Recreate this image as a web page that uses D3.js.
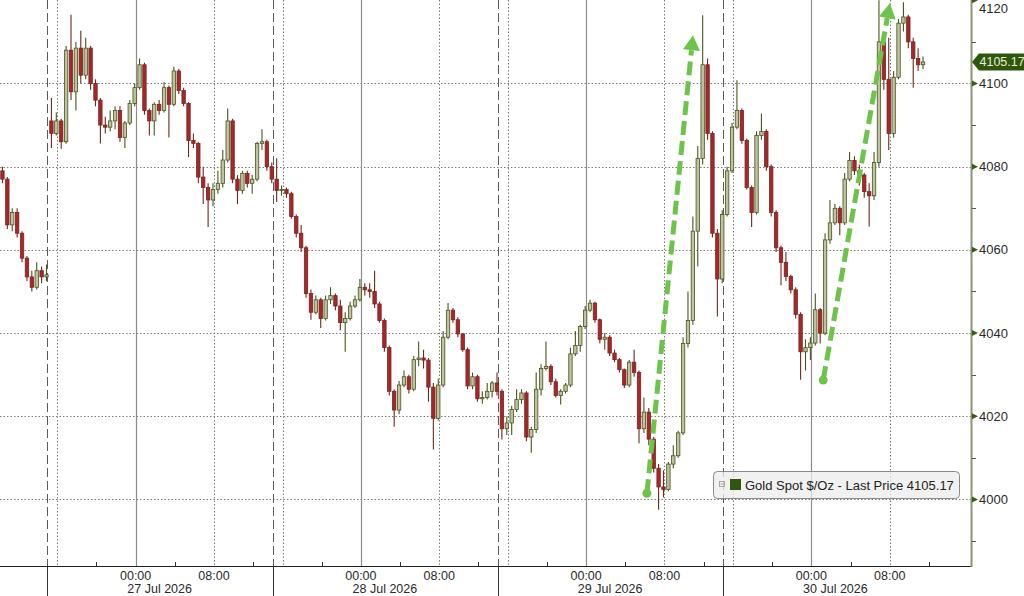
<!DOCTYPE html>
<html><head><meta charset="utf-8">
<script src="https://cdn.jsdelivr.net/npm/d3@7/dist/d3.min.js"></script>
<style>body{margin:0;background:#fff;overflow:hidden}svg{display:block;font-family:"Liberation Sans",Arial,sans-serif}</style>
</head><body><svg id="c" width="1024" height="596"></svg>
<script>
// ---- data: 30-minute bars of Gold Spot $/Oz, index 0 = left edge of chart ----
const opens = [4079,4077,4066,4069,4064,4058,4053.5,4051,4055,4053.5,
4091,4088,4091,4086,4108,4098,4108.5,4102,4108.5,4100,
4096,4090,4089.5,4091,4093.5,4087,4090.5,4095.2,4099,4104.5,
4093.5,4091,4095,4093.5,4099,4095,4103,4098.3,4095.2,4086.3,
4085.6,4077.5,4075,4072,4074.5,4076,4081.6,4091,4077,4074.3,
4078.4,4076,4077,4085.6,4086,4080,4077,4074.3,4074.5,4073.5,
4068,4064,4060.5,4049.5,4045,4048,4043.5,4048,4049,4046.5,
4042.5,4043.5,4046.5,4048,4051,4050.4,4050,4047,4043,4036.5,
4026,4021.5,4027.5,4029.5,4026.5,4033.6,4034,4033.5,4027,4019.5,
4027.5,4039,4045.5,4043.2,4039.8,4036,4027.3,4029.5,4024.2,4024.5,
4026,4028,4026,4017,4018.4,4021.6,4024,4025.6,4015,4016.8,
4026.5,4031.5,4032,4028.3,4025,4026,4027.5,4035,4037,4041.6,
4045.5,4047.2,4043.2,4038.5,4039,4035.2,4033.6,4031.2,4027.5,4033,
4030.5,4017,4021,4014.5,4007.5,4003,4002.4,4008.5,4010.5,4016,
4037.5,4043,4064.5,4082,4104.5,4088,4064,4053,4068.5,4079,
4089.5,4093.5,4086.3,4075,4069,4087.5,4088.5,4080,4069,4060.5,
4057,4053.6,4050.4,4044.5,4035.5,4036.5,4037.6,4045.6,4040,4062.4,
4066.5,4070,4066.5,4077,4081.5,4079,4078,4074,4073,4081,
4110,4101,4088,4101.5,4114.5,4116,4110,4106,4104.5];
const highs = [4080,4077.5,4070,4070,4064.5,4058.5,4055,4057,4056,4056.5,
4096.5,4093,4091.5,4109,4116.5,4110,4112.7,4111,4109,4101,
4096.5,4092,4093.5,4094.5,4094.5,4091,4096,4100,4106,4105,
4094,4095.5,4096,4100.3,4099.5,4104,4103.5,4099,4095.5,4088,
4086,4080,4076,4076,4079,4084,4094,4091.5,4078,4079,
4079,4078,4086,4089,4086.5,4081,4082,4075.5,4075,4074,
4068.5,4066,4061,4050.5,4049,4048.5,4049,4051,4049.5,4048,
4045,4047.5,4049,4053,4052,4052,4055,4047.5,4043.5,4037,
4026.5,4028.5,4031,4030,4034.5,4038,4036,4034,4028,4029,
4040.5,4047.2,4046,4043.8,4040,4036.5,4030.5,4030,4026,4028,
4028.5,4030.5,4026.5,4020,4022.5,4026.5,4026.5,4026,4017.5,4030.5,
4032.5,4038,4032.5,4029,4026.5,4028,4036.5,4040.5,4042,4046.5,
4048,4047.5,4043.5,4040,4039.5,4036,4034,4031.5,4033.5,4036,
4031,4024.5,4022,4015,4008.5,4007,4009,4013,4016.5,4039,
4050,4068,4085,4116.4,4106,4088.5,4065,4069.5,4080,4090.5,
4100.8,4094,4086.8,4075.5,4088.5,4092.8,4089,4080.5,4069.5,4061,
4059.5,4054,4051,4045,4038.5,4039,4049.5,4046,4064,4072,
4071,4070.5,4078.5,4083.5,4082.5,4080.5,4078.5,4076,4083.5,4120,
4111,4111,4103,4115.5,4119.5,4116.5,4111,4108.5,4106.5];
const lows = [4076,4065,4064.5,4063,4057,4052.5,4050,4050.5,4052,4052.5,
4084.5,4087.5,4084.3,4085.5,4096,4093.5,4100,4101,4098.5,4094.5,
4085.6,4088,4088.5,4089,4086,4084.5,4090,4094.5,4098.5,4092.5,
4087.5,4087.5,4092.5,4093,4087,4094.5,4097.5,4094.5,4082.3,4084.5,
4076,4071,4065.5,4070.5,4073.5,4075,4081,4076,4071,4073.5,
4075,4073.5,4076.5,4084,4079,4076,4071.5,4073,4072.5,4067.5,
4063,4059.5,4048.5,4043.2,4044.5,4041.2,4043,4047,4045.5,4040.7,
4035.5,4043,4046,4047.5,4049,4048.5,4046,4042.5,4035.5,4025,
4017.5,4020.5,4027,4025.5,4026,4032,4031.5,4023.5,4012,4019,
4027,4038.5,4042.5,4039,4035.5,4026.5,4026.5,4023.5,4023,4024,
4024.5,4025,4014.4,4015.5,4015.5,4021,4023,4014,4011.2,4016,
4025,4031,4027.5,4024.5,4022.8,4025.5,4027,4034.5,4035.5,4041,
4045,4042.5,4037.5,4036,4034.5,4033,4030.5,4026.8,4027,4029.5,
4013.5,4016,4013,4006.5,3997.5,4000.5,4002,4007.5,4010,4015.5,
4036.5,4042,4056,4080.5,4086.5,4063,4044,4052,4068,4078.5,
4089,4085.5,4074.5,4065.5,4068.5,4086.5,4079,4068,4059.5,4051.5,
4052.5,4049.5,4043.5,4028.8,4031,4033.5,4037,4037.5,4039.5,4061.5,
4066,4063.5,4066,4076.5,4078,4075.5,4072.5,4065.6,4072,4080,
4098.5,4084,4087,4101,4112.5,4108.5,4099,4103,4103.5];
const closes = [4077,4066,4069,4064,4058,4053.5,4051,4055,4053.5,4054,
4088,4091,4086,4108,4098,4108.5,4102,4108.5,4100,4096,
4090,4089.5,4091,4093.5,4087,4090.5,4095.2,4099,4104.5,4093.5,
4091,4095,4093.5,4099,4095,4103,4098.3,4095.2,4086.3,4085.6,
4077.5,4075,4072,4074.5,4076,4081.6,4091,4077,4074.3,4078.4,
4076,4077,4085.6,4086,4080,4077,4074.3,4074.5,4073.5,4068,
4064,4060.5,4049.5,4045,4048,4043.5,4048,4049,4046.5,4042.5,
4043.5,4046.5,4048,4051,4050.4,4050,4047,4043,4036.5,4026,
4021.5,4027.5,4029.5,4026.5,4033.6,4034,4033.5,4027,4019.5,4027.5,
4039,4045.5,4043.2,4039.8,4036,4027.3,4029.5,4024.2,4024.5,4026,
4028,4026,4017,4018.4,4021.6,4024,4025.6,4015,4016.8,4026.5,
4031.5,4032,4028.3,4025,4026,4027.5,4035,4037,4041.6,4045.5,
4047.2,4043.2,4038.5,4039,4035.2,4033.6,4031.2,4027.5,4033,4030.5,
4017,4021,4014.5,4007.5,4003,4002.4,4008.5,4010.5,4016,4037.5,
4043,4064.5,4082,4104.5,4088,4064,4053,4068.5,4079,4089.5,
4093.5,4086.3,4075,4069,4087.5,4088.5,4080,4069,4060.5,4057,
4053.6,4050.4,4044.5,4035.5,4036.5,4037.6,4045.6,4040,4062.4,4066.5,
4070,4066.5,4077,4081.5,4079,4078,4074,4073,4081,4110,
4101,4088,4101.5,4114.5,4116,4110,4106,4104.5,4105.17];
const lastPrice = 4105.17;

// ---- time axis (trading hours from the left edge) ----
const dayMidnights = [13.85, 36.85, 59.85, 82.85];
const dayLabels = ["27 Jul 2026", "28 Jul 2026", "29 Jul 2026", "30 Jul 2026"];
const morningHours = [21.85, 44.85, 67.85, 90.85];
const timeLabels = ["00:00", "08:00"];
const sessionBreaks = [4.85, 27.85, 50.85, 73.85];
const sessionOpens = [5.85, 28.85, 51.85, 74.85];
const minorHours = [9.85, 17.85, 25.85, 32.85, 40.85, 48.85, 55.85, 63.85, 71.85, 78.85, 86.85, 94.85];

// ---- price axis ----
const majorPrices = [4000, 4020, 4040, 4060, 4080, 4100, 4120];
const minorPrices = [3990, 4010, 4030, 4050, 4070, 4090, 4110];

// ---- annotation arrows: [start hour, start price, end hour, end price] ----
const arrows = [[66.06, 4001.5, 70.76, 4111.6], [84.06, 4028.7, 90.87, 4119.3]];
const legendText = "Gold Spot $/Oz - Last Price 4105.17";

const W = 971, H = 566;
const svg = d3.select("#c");
const x = d3.scaleLinear().domain([0, 99.15]).range([0, W]);
const y = d3.scaleLinear().domain([3984, 4120.07]).range([H, 0]);
const px5 = v => Math.round(v) + 0.5;

const grid = svg.append("g");
grid.selectAll("line.h").data(majorPrices.filter(p => p < 4120)).join("line")
  .attr("x1", 0).attr("x2", W).attr("y1", d => px5(y(d))).attr("y2", d => px5(y(d)))
  .attr("stroke", "#7a7a7a").attr("stroke-width", 1).attr("stroke-dasharray", "1.5,2");
grid.selectAll("line.mid").data(dayMidnights).join("line")
  .attr("x1", d => px5(x(d))).attr("x2", d => px5(x(d))).attr("y1", 0).attr("y2", H)
  .attr("stroke", "#8c8c8c").attr("stroke-width", 1.2);
grid.selectAll("line.am").data(morningHours).join("line")
  .attr("x1", d => px5(x(d))).attr("x2", d => px5(x(d))).attr("y1", 0).attr("y2", H)
  .attr("stroke", "#7a7a7a").attr("stroke-dasharray", "1.5,2");
grid.selectAll("line.so").data(sessionOpens).join("line")
  .attr("x1", d => px5(x(d))).attr("x2", d => px5(x(d))).attr("y1", 0).attr("y2", H)
  .attr("stroke", "#7a7a7a").attr("stroke-dasharray", "1.5,2");
grid.selectAll("line.sb").data(sessionBreaks).join("line")
  .attr("x1", d => px5(x(d))).attr("x2", d => px5(x(d))).attr("y1", 0).attr("y2", H)
  .attr("stroke", "#5a5a5a").attr("stroke-dasharray", "9,4");
grid.selectAll("line.sbb").data(sessionBreaks).join("line")
  .attr("x1", d => px5(x(d))).attr("x2", d => px5(x(d))).attr("y1", H).attr("y2", 596)
  .attr("stroke", "#333");

// candles
const bars = closes.map((c, i) => ({ t: 0.25 + 0.5 * i, o: opens[i], h: highs[i], l: lows[i], c }));
const bw = 3.4;
const cg = svg.append("g");
cg.selectAll("line").data(bars).join("line")
  .attr("x1", d => x(d.t)).attr("x2", d => x(d.t))
  .attr("y1", d => y(d.h)).attr("y2", d => y(d.l))
  .attr("stroke", d => d.c >= d.o ? "#46561a" : "#6a2a1c").attr("stroke-width", 1.1);
cg.selectAll("rect").data(bars).join("rect")
  .attr("x", d => x(d.t) - bw / 2).attr("width", bw)
  .attr("y", d => y(Math.max(d.o, d.c)))
  .attr("height", d => Math.max(1, Math.abs(y(d.o) - y(d.c))))
  .attr("fill", d => d.c >= d.o ? "#bfc1a1" : "#a5282a")
  .attr("stroke", d => d.c >= d.o ? "#46561a" : "#7a2420").attr("stroke-width", 0.8);

// bottom axis
const ax = svg.append("g");
ax.append("line").attr("x1", 0).attr("x2", W).attr("y1", H + 0.5).attr("y2", H + 0.5).attr("stroke", "#222");
ax.selectAll("line.mn").data(minorHours).join("line")
  .attr("x1", d => px5(x(d))).attr("x2", d => px5(x(d))).attr("y1", H - 4).attr("y2", H)
  .attr("stroke", "#333");
const tl = dayMidnights.map(d => ({ t: d, s: timeLabels[0] })).concat(morningHours.map(d => ({ t: d, s: timeLabels[1] })));
ax.selectAll("text.tm").data(tl).join("text")
  .attr("x", d => x(d.t)).attr("y", 579.5).attr("text-anchor", "middle")
  .attr("font-size", 12.5).attr("fill", "#2a2a2a").text(d => d.s);
ax.selectAll("text.dy").data(dayMidnights).join("text")
  .attr("x", d => x(d) + 24).attr("y", 593.3).attr("text-anchor", "middle")
  .attr("font-size", 12.5).attr("fill", "#2a2a2a").text((d, i) => dayLabels[i]);

// right axis
const ay = svg.append("g");
ay.append("line").attr("x1", W + 0.5).attr("x2", W + 0.5).attr("y1", 0).attr("y2", H + 1)
  .attr("stroke", "#8e9274").attr("stroke-width", 2);
ay.selectAll("line.mn").data(minorPrices).join("line")
  .attr("x1", W + 1).attr("x2", W + 5).attr("y1", d => px5(y(d))).attr("y2", d => px5(y(d)))
  .attr("stroke", "#555");
ay.selectAll("path.mj").data(majorPrices).join("path")
  .attr("d", d => { const yy = y(d); return `M${W + 1},${yy - 3}L${W + 7},${yy}L${W + 1},${yy + 3}Z`; })
  .attr("fill", "#3d5a12");
ay.selectAll("text").data(majorPrices).join("text")
  .attr("x", 979).attr("y", d => Math.max(y(d) + 4.5, 12.5)).attr("font-size", 13).attr("fill", "#2a2a2a").text(d => d);

// last price tag
const ly = y(lastPrice);
svg.append("path").attr("d", `M${W + 1},${ly}L${W + 8},${ly - 8.5}L1024,${ly - 8.5}L1024,${ly + 8.5}L${W + 8},${ly + 8.5}Z`)
  .attr("fill", "#2f560c");
svg.append("text").attr("x", 979.5).attr("y", ly + 4.5).attr("font-size", 12.5).attr("fill", "#e6f0d6").text(lastPrice.toFixed(2));

// arrows
const ag = svg.append("g");
const green = "#6cc44b";
arrows.forEach(a => {
  const x0 = x(a[0]), y0 = y(a[1]), x1 = x(a[2]), y1 = y(a[3]);
  const ang = Math.atan2(y1 - y0, x1 - x0);
  const hl = 15, hw = 8.5;
  const bx = x1 - hl * Math.cos(ang), by = y1 - hl * Math.sin(ang);
  ag.append("line").attr("x1", x0).attr("y1", y0).attr("x2", bx).attr("y2", by)
    .attr("stroke", green).attr("stroke-width", 5).attr("stroke-dasharray", "14,6");
  const pxx = -Math.sin(ang), pyy = Math.cos(ang);
  ag.append("path").attr("d", `M${x1},${y1}L${bx + pxx * hw},${by + pyy * hw}L${bx - pxx * hw},${by - pyy * hw}Z`).attr("fill", green);
  ag.append("circle").attr("cx", x0).attr("cy", y0).attr("r", 4.5).attr("fill", green);
});

// legend
const lg = svg.append("g");
lg.append("rect").attr("x", 713.5).attr("y", 471.5).attr("width", 246).attr("height", 27).attr("rx", 4)
  .attr("fill", "rgba(236,236,236,0.75)").attr("stroke", "#8a8a8a");
lg.append("rect").attr("x", 719.5).attr("y", 481.5).attr("width", 5).attr("height", 5).attr("fill", "none").attr("stroke", "#999").attr("stroke-width", 0.8);
lg.append("line").attr("x1", 720.5).attr("x2", 723.5).attr("y1", 484).attr("y2", 484).attr("stroke", "#999").attr("stroke-width", 0.8);
lg.append("rect").attr("x", 730).attr("y", 479).attr("width", 11).attr("height", 11).attr("fill", "#2f560c");
lg.append("text").attr("x", 745).attr("y", 490).attr("font-size", 13).attr("fill", "#222").text(legendText);
</script></body></html>
